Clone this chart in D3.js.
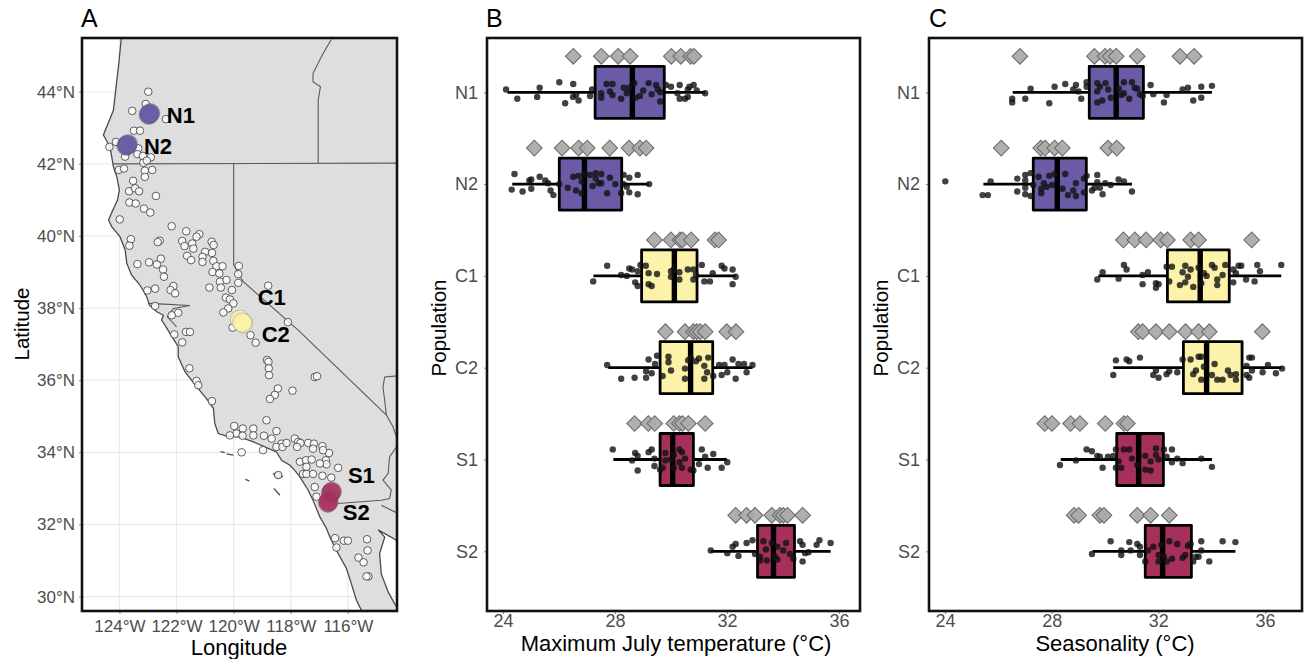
<!DOCTYPE html>
<html>
<head>
<meta charset="utf-8">
<script src="https://cdn.jsdelivr.net/npm/d3@7"></script>
<style>
  body { margin: 0; background: #fff; }
  text { font-family: "Liberation Sans", Arial, sans-serif; }
</style>
</head>
<body>
<svg width="1308" height="659"></svg>
<script>
var populations = ["N1", "N2", "C1", "C2", "S1", "S2"];
var popFill = ["#6b5ba6", "#6b5ba6", "#fdf2a9", "#fdf2a9", "#a6305c", "#a6305c"];

// map ticks
var lonTicks = [-124, -122, -120, -118, -116];
var latTicks = [30, 32, 34, 36, 38, 40, 42, 44];
var tempTicks = [24, 28, 32, 36];
var seasonTicks = [24, 28, 32, 36];

// land outline (lon, lat), runs off the panel on purpose
var land = [[-123.9,46],[-123.94,45.45],[-124.02,44.79],[-124.09,44.32],[-124.21,43.49],[-124.35,43.21],[-124.47,42.98],[-124.56,42.8],
  [-124.33,42.47],[-124.27,42.2],[-124.21,41.92],[-124.09,41.64],[-124,41.27],[-124.07,40.99],[-124.23,40.72],[-124.38,40.44],
  [-124.27,40.26],[-123.98,39.98],[-123.8,39.61],[-123.74,39.24],[-123.57,38.91],[-123.28,38.64],[-123.04,38.31],[-122.95,38.08],
  [-122.69,37.9],[-122.46,37.8],[-122.52,37.67],[-122.23,37.3],[-121.94,36.93],[-121.94,36.65],[-121.7,36.23],[-121.3,35.82],
  [-120.95,35.49],[-120.71,35.22],[-120.66,34.8],[-120.54,34.52],[-120.25,34.45],[-119.78,34.43],[-119.31,34.29],[-118.79,34.11],
  [-118.5,34.01],[-118.32,33.78],[-118.03,33.64],[-117.86,33.5],[-117.68,33.32],[-117.39,32.95],[-117.22,32.67],[-116.98,32.21],
  [-116.75,31.89],[-116.63,31.65],[-116.4,31.28],[-116.05,30.78],[-115.88,30.36],[-115.7,29.9],[-115.47,29.53],[-115,29.2],
  [-114.19,29.62],[-114.36,29.8],[-114.59,30.13],[-114.83,30.63],[-114.89,31.19],[-114.71,31.65],[-114.94,31.85],[-114.24,31.54],
  [-113,31.54],[-113,46]];
var borders = [
  [[-124.21,42],[-114,42.02]],
  [[-120,42],[-120,39.19],[-119.66,38.73],[-117.74,37.39],[-114.65,35.03],[-114.42,34.71],[-114.28,34.38],[-114.28,34.17],[-114.54,33.87],
   [-114.59,33.41],[-114.77,33.23],[-114.48,32.95],[-114.54,32.72],[-114.83,32.67],[-116.34,32.58]],
  [[-114.28,36.12],[-114.71,36.09],[-114.77,35.82],[-114.65,35.03]],
  [[-114.83,32.53],[-114.28,32.32]],
  [[-116.58,45.45],[-116.87,45.06],[-117.22,44.51],[-117.22,44.28],[-116.96,44.14],[-117.04,43.77],[-117.04,42.01]],
  [[-122.99,38.13],[-122.46,38.11],[-121.53,38.07],[-122.11,37.99],[-122.32,37.76],[-122,37.48]]
];
var islands = [
  [[-120.46,34.02],[-120.31,33.99]],
  [[-120.25,33.96],[-120.01,33.92]],
  [[-119.59,33.25],[-119.45,33.21]],
  [[-118.59,33],[-118.38,32.81]],
  [[-118.6,33.4],[-118.45,33.45],[-118.3,33.33],[-118.45,33.28]]
];

// sampling sites
var sites = [[-122.99,44],[-123.08,43.66],[-123.55,43.47],[-122.37,43.24],[-123.49,42.92],[-123.28,42.92],[-124.12,42.61],[-124.35,42.47],
  [-123.8,42.2],[-123.34,42.43],[-123.37,42.27],[-123.18,42.22],[-122.9,42.18],[-123.16,42.03],[-123.04,42.09],[-124.02,41.83],[-123.84,41.87],
  [-123.11,41.81],[-122.85,41.83],[-123.11,41.64],[-123.52,41.53],[-123.66,41.24],[-123.45,41.32],[-123.31,41.24],[-122.72,41.11],[-123.65,40.93],
  [-123.43,40.9],[-123.14,40.76],[-122.92,40.65],[-123.99,40.46],[-122.17,40.27],[-121.66,40.13],[-121.2,40.05],[-121.3,39.98],[-122.59,39.87],
  [-122.66,39.83],[-123.6,39.91],[-123.65,39.73],[-121.8,39.86],[-121.72,39.72],[-121.45,39.79],[-121.41,39.65],[-120.77,39.84],[-120.7,39.75],
  [-120.76,39.53],[-121,39.56],[-121.09,39.42],[-121.63,39.45],[-121.49,39.33],[-121.09,39.28],[-122.55,39.37],[-122.96,39.27],[-122.69,39.21],
  [-123.37,39.22],[-122.47,39.07],[-122.44,38.87],[-120.71,39.31],[-120.6,39.16],[-120.39,39.16],[-120.74,39],[-120.5,38.96],[-120.48,38.73],
  [-120.25,38.78],[-120.85,38.57],[-120.45,38.57],[-119.82,39.17],[-119.84,38.94],[-119.84,38.7],[-120.06,38.5],[-118.79,38.62],[-122.75,38.54],
  [-123.02,38.49],[-122.11,38.61],[-122.21,38.5],[-122.05,38.41],[-120.27,38.29],[-120.13,38.24],[-120.01,38.13],[-120.19,37.99],[-120.36,37.88],
  [-118.1,37.61],[-122.75,38.06],[-121.94,37.87],[-122.17,37.8],[-122.08,37.27],[-121.67,37.34],[-121.53,37.34],[-121.8,37.05],[-120.04,37.46],
  [-119.41,37.25],[-119.23,37.04],[-118.83,36.56],[-118.78,36.51],[-118.77,36.33],[-118.76,36.14],[-121.55,36.33],[-121.3,35.98],[-121.24,35.86],
  [-117.16,36.09],[-117.08,36.11],[-118.45,35.77],[-118.56,35.59],[-118.73,35.48],[-117.94,35.71],[-120.76,35.42],[-118.85,34.89],[-119.98,34.73],
  [-119.68,34.66],[-119.31,34.66],[-118.5,34.59],[-119.9,34.52],[-120.13,34.47],[-119.69,34.46],[-119.31,34.47],[-118.94,34.46],[-118.67,34.38],
  [-118.32,34.24],[-118.97,34.06],[-118.5,34.15],[-118.29,34.15],[-118.15,34.26],[-117.86,34.38],[-117.74,34.29],[-117.66,34.26],[-117.39,34.26],
  [-117.19,34.24],[-116.89,34.17],[-116.66,33.98],[-116.87,34.06],[-117.78,34.15],[-117.22,34.1],[-119.72,34],[-118.44,33.37],[-116.34,33.57],
  [-116.77,33.78],[-116.75,33.67],[-117.68,33.74],[-117.47,33.78],[-117.27,33.8],[-116.98,33.69],[-117.45,33.6],[-117.57,33.4],[-117.45,33.4],
  [-117.22,33.4],[-116.89,33.35],[-116.58,33.3],[-117.16,33.04],[-117.1,32.77],[-116.45,31.62],[-116.14,31.55],[-116,31.55],[-116.4,31.36],
  [-115.33,31.59],[-115.31,31.28],[-115.63,31.08],[-115.45,30.95],[-115.28,30.56],[-115.35,30.56]];

// focal populations: lon, lat, colour index
var focalSites = [[-122.95,43.38,0],[-122.98,43.36,0],[-122.92,43.41,0],[-123.73,42.52,1],[-123.76,42.5,1],[-123.7,42.55,1],
  [-119.78,37.68,2],[-119.66,37.57,3],[-119.7,37.6,3],[-116.56,32.91,4],[-116.6,32.87,4],[-116.7,32.6,5],[-116.67,32.64,5]];
var focalLabels = [["N1",-122.34,43.13],["N2",-123.14,42.27],["C1",-119.16,38.08],["C2",-119.02,37.06],["S1",-116,33.15],["S2",-116.18,32.12]];

// panel B: maximum July temperature, [value, vertical jitter]
var tempN1 = [[24.11,-.03],[24.51,.07],[25.22,.05],[25.31,-.05],[26.01,-.11],[26.51,-.09],[26.22,.12],[26.5,.05],[26.61,.03],[26.7,.09],[27.11,.04],[27.18,-.03],[27.51,.01],[27.51,.06],[27.7,-.09],[27.91,-.09],[27.82,-.01],[27.91,.03],[28.22,.07],[28.31,-.05],[28.42,.01],[28.5,-.05],[28.69,-.1],[28.73,.06],[28.89,.04],[29.01,-.02],[29.2,-.1],[29.31,.02],[29.47,-.08],[29.53,-.03],[29.62,0],[29.62,.1],[29.82,-.08],[30,-.06],[30.31,-.08],[30.23,.01],[30.31,.07],[30.5,.07],[30.6,.05],[30.6,-.03],[30.66,-.06],[30.81,-.08],[30.92,-.02],[31.22,.01]];
var tempN2 = [[24.31,.06],[24.41,-.11],[24.7,.08],[24.94,-.04],[25.01,-.05],[25.01,.05],[25.31,-.08],[25.51,-.04],[25.61,-.01],[25.7,.07],[25.8,.12],[26.01,0],[26.31,.04],[26.51,-.08],[26.61,.07],[26.7,-.09],[26.81,-.03],[26.81,.1],[26.91,-.11],[27.11,-.1],[27.2,.02],[27.31,-.12],[27.31,-.06],[27.41,-.01],[27.51,-.11],[27.51,-.01],[27.72,.1],[27.82,-.07],[28.01,0],[28.22,.1],[28.31,-.1],[28.31,0],[28.42,.03],[28.51,-.07],[28.51,.09],[28.81,-.1],[28.81,.11],[29.22,0]];
var tempC1 = [[27.22,.06],[27.72,-.11],[28.22,-.01],[28.42,0],[28.51,-.08],[28.61,-.07],[28.72,.07],[28.81,-.05],[28.81,.11],[28.91,-.12],[29.1,-.11],[29.2,-.03],[29.2,.09],[29.31,.11],[29.5,-.02],[30,-.05],[30,.01],[30.1,-.07],[30.3,-.04],[30.3,.04],[30.6,-.07],[30.8,-.07],[30.8,.04],[30.89,-.01],[31.1,-.12],[31.19,.06],[31.39,.06],[31.49,-.03],[31.81,-.11],[31.91,-.08],[32.2,-.07],[32.2,.09],[32.31,.01]];
var tempC2 = [[27.72,-.03],[28.22,.12],[28.7,.11],[29.11,.04],[29.11,.11],[29.2,-.09],[29.31,.06],[29.43,-.04],[29.5,-.13],[29.7,.09],[29.91,-.12],[29.91,-.06],[30,.03],[30.5,.01],[30.5,.12],[30.61,-.08],[30.7,-.11],[30.89,-.07],[31,-.1],[31.19,-.02],[31.19,.12],[31.29,.05],[31.33,-.11],[31.51,.09],[31.72,-.03],[31.81,.08],[31.91,-.03],[32.01,.05],[32.2,-.09],[32.31,.12],[32.41,-.04],[32.61,-.04],[32.7,.05],[32.91,-.03]];
var tempS1 = [[27.92,-.11],[28.61,.01],[28.72,-.07],[28.81,-.04],[28.81,.12],[29.2,-.08],[29.31,-.11],[29.41,-.01],[29.41,.07],[29.61,.11],[29.7,.09],[29.8,-.07],[29.8,.01],[30,0],[30.1,-.05],[30.1,.09],[30.3,-.11],[30.3,.03],[30.39,-.08],[30.39,.09],[30.5,-.01],[30.7,.11],[30.8,.12],[31,.05],[31.1,-.11],[31.22,-.03],[31.31,.09],[31.51,-.06],[31.81,.09],[32.01,.03]];
var tempS2 = [[31.42,-.01],[32.01,.02],[32.2,-.05],[32.31,-.08],[32.41,.05],[32.7,-.09],[32.91,-.12],[33,.03],[33.18,.06],[33.18,.1],[33.3,-.11],[33.39,-.02],[33.42,.1],[33.6,-.09],[33.72,.06],[33.8,.09],[33.8,-.05],[34.01,-.01],[34.11,-.09],[34.25,.03],[34.37,.08],[34.61,-.11],[34.7,-.07],[34.7,.11],[34.79,.02],[34.91,.01],[35.2,-.07],[35.3,-.12],[35.7,-.09]];
var tempDots = [tempN1, tempN2, tempC1, tempC2, tempS1, tempS2];
var tempQ1 = [27.29, 26.01, 28.95, 29.61, 29.61, 33.09];
var tempMedian = [28.62, 26.91, 30.12, 30.7, 30.06, 33.66];
var tempQ3 = [29.76, 28.24, 30.93, 31.49, 30.8, 34.41];
var tempLow = [24.16, 24.33, 27.23, 27.76, 27.94, 31.42];
var tempHigh = [31.22, 29.22, 32.31, 32.91, 31.99, 35.7];
var tempFocal = [
  [26.51, 27.51, 28.11, 28.54, 30.01, 30.35, 30.7, 30.82],
  [25.12, 26.11, 26.7, 27.01, 27.81, 28.5, 28.89, 29.11],
  [29.41, 30, 30.32, 30.41, 30.72, 31.57, 31.7],
  [29.8, 30.5, 30.8, 30.92, 31.04, 31.22, 31.99, 32.32],
  [28.7, 29.19, 29.42, 30.1, 30.3, 30.41, 30.62, 31.22],
  [32.31, 32.7, 33, 33.6, 33.89, 34.01, 34.16, 34.7]
];

// panel C: seasonality, [value, vertical jitter]
var seasonN1 = [[26.52,.07],[26.52,.11],[27.01,.07],[27.21,-.04],[27.91,.12],[28.11,-.06],[28.51,-.09],[28.81,-.03],[28.91,-.08],[29.01,-.01],[29.11,.07],[29.31,-.11],[29.31,-.06],[29.71,-.1],[29.71,-.01],[29.71,.11],[29.81,-.06],[29.9,.09],[30.02,-.1],[30.12,-.03],[30.22,.06],[30.52,-.04],[30.61,.03],[30.71,-.11],[30.71,.01],[30.91,.07],[31.01,-.11],[31.11,-.05],[31.21,-.04],[31.31,.02],[31.41,.04],[31.71,-.08],[31.81,.02],[32.21,.11],[32.31,.03],[32.91,-.03],[33.11,-.05],[33.31,.09],[33.61,-.06],[33.61,.06],[34.01,-.07]];
var seasonN2 = [[24.01,-.03],[25.41,.12],[25.61,.12],[25.71,-.03],[26.71,-.06],[26.71,.08],[27.01,-.1],[27.01,-.04],[27.01,.04],[27.01,.11],[27.21,-.12],[27.21,.13],[27.31,.01],[27.51,-.08],[27.61,.05],[27.61,.1],[27.71,-.01],[27.81,.03],[27.91,-.09],[28.01,.01],[28.11,-.11],[28.41,.05],[28.51,-.11],[28.61,.12],[28.81,.07],[28.91,.13],[28.91,-.01],[29.21,.09],[29.21,-.06],[29.31,-.09],[29.51,.07],[29.61,.04],[29.71,-.1],[29.71,-.02],[29.81,.04],[29.91,.11],[30.01,-.01],[30.21,.01],[30.51,-.05],[30.71,-.03],[31.01,.08]];
var seasonC1 = [[29.71,.04],[29.91,-.04],[30.51,.03],[30.71,-.12],[30.81,-.07],[31.41,.09],[31.41,-.01],[31.61,-.04],[31.91,.08],[31.91,.13],[32.01,.09],[32.31,-.1],[32.41,.06],[32.51,-.1],[32.81,.1],[32.91,-.04],[33.01,.07],[33.01,-.11],[33.11,.01],[33.21,-.07],[33.31,.12],[33.51,-.09],[33.61,.08],[33.71,-.03],[33.81,0],[34.01,-.12],[34.11,-.09],[34.21,.04],[34.21,.1],[34.41,-.01],[34.51,-.12],[34.81,.07],[34.81,-.07],[34.91,-.03],[35.01,-.11],[35.11,-.11],[35.29,.04],[35.61,.06],[35.71,-.12],[35.81,-.05],[36.61,-.12]];
var seasonC2 = [[30.31,.08],[30.41,-.08],[30.81,-.09],[30.91,-.07],[31.31,-.11],[31.81,.08],[31.91,.03],[32.01,.11],[32.31,.07],[32.41,.04],[32.71,.05],[32.91,-.09],[33.21,-.09],[33.31,.07],[33.41,.03],[33.51,-.12],[33.61,.13],[33.71,-.01],[33.61,-.12],[34.01,.08],[34.11,-.04],[34.21,.13],[34.41,.13],[34.61,.03],[34.71,.08],[34.91,.07],[34.91,.13],[35.31,-.02],[35.31,.08],[35.41,-.11],[35.51,-.11],[35.51,.03],[35.41,.11],[35.91,.05],[36.11,-.03],[36.41,.06],[36.64,.01]];
var seasonS1 = [[28.31,.06],[28.91,.01],[29.31,-.11],[29.51,-.09],[29.71,-.04],[29.91,.09],[29.81,-.03],[30.11,-.03],[30.31,-.04],[30.41,-.11],[30.41,.09],[30.51,.02],[30.61,.09],[30.71,-.11],[30.91,-.11],[31.01,-.01],[31.21,.06],[31.51,-.04],[31.51,.11],[31.71,.02],[31.71,.12],[31.91,-.12],[31.91,-.05],[32.01,0],[32.21,-.11],[32.31,-.03],[32.51,-.11],[32.51,.03],[32.71,-.01],[32.91,.04],[33.61,-.01],[34.01,.08]];
var seasonS2 = [[29.51,.03],[30.21,-.11],[30.61,-.01],[30.61,.04],[30.91,-.1],[30.96,-.01],[31.21,-.08],[31.31,-.05],[31.31,.04],[31.51,.11],[31.61,-.01],[31.81,-.05],[32.01,.04],[32.01,.11],[32.11,-.07],[32.21,.06],[32.31,.11],[32.41,-.11],[32.51,.08],[32.71,-.08],[32.91,.07],[33.01,.04],[33.11,-.06],[33.21,-.08],[33.31,.11],[33.41,.06],[33.51,.06],[33.61,-.11],[33.61,-.01],[33.91,.11],[34.41,-.11],[34.89,-.1]];
var seasonDots = [seasonN1, seasonN2, seasonC1, seasonC2, seasonS1, seasonS2];
var seasonQ1 = [29.41, 27.31, 32.34, 32.94, 30.44, 31.51];
var seasonMedian = [30.42, 28.21, 33.57, 33.81, 31.26, 32.16];
var seasonQ3 = [31.44, 29.3, 34.66, 35.14, 32.19, 33.24];
var seasonLow = [26.54, 25.44, 29.75, 30.31, 28.34, 29.54];
var seasonHigh = [34.01, 31.01, 36.61, 36.64, 34.01, 34.89];
var seasonFocal = [
  [26.81, 29.6, 30, 30.19, 30.42, 31.21, 32.81, 33.34],
  [26.11, 27.59, 27.75, 28.11, 28.4, 30.11, 30.44],
  [30.69, 31.12, 31.54, 32.09, 32.34, 33.21, 33.51, 35.5],
  [31.25, 31.41, 31.91, 32.41, 33.02, 33.51, 33.91, 35.9],
  [27.74, 28.01, 28.71, 29.06, 30.01, 30.71, 30.84],
  [28.84, 29.01, 29.81, 29.96, 31.21, 31.71, 32.41]
];

var svg = d3.select("svg");
var top_ = 38, bottom = 611;

function styleAxis(sel, fontSize) {
  sel.select(".domain").remove();
  sel.selectAll("line").attr("stroke", "#8a8a8a");
  sel.selectAll("text").attr("fill", "#4d4d4d").style("font-size", fontSize + "px");
}

function addTitle(text, x, y, rotate, size, anchor) {
  svg.append("text")
    .attr("transform", "translate(" + x + "," + y + ")" + (rotate ? "rotate(-90)" : ""))
    .attr("text-anchor", anchor || "middle")
    .style("font-size", size + "px")
    .text(text);
}

// ---- Map panel ----
var lonScale = d3.scaleLinear().domain([-125.31, -114.28]).range([82, 397]);
var latScale = d3.scaleLinear().domain([45.49, 29.6]).range([top_, bottom]);
var mapLine = d3.line().x(function (d) { return lonScale(d[0]); }).y(function (d) { return latScale(d[1]); });

svg.append("clipPath").attr("id", "mapClip").append("rect")
  .attr("x", 82).attr("y", top_).attr("width", 315).attr("height", bottom - top_);
var map = svg.append("g").attr("clip-path", "url(#mapClip)");

map.selectAll(".vgrid").data(lonTicks).enter().append("line")
  .attr("x1", lonScale).attr("x2", lonScale).attr("y1", top_).attr("y2", bottom)
  .attr("stroke", "#ebebeb").attr("stroke-width", 1.2);
map.selectAll(".hgrid").data(latTicks).enter().append("line")
  .attr("y1", latScale).attr("y2", latScale).attr("x1", 82).attr("x2", 397)
  .attr("stroke", "#ebebeb").attr("stroke-width", 1.2);

map.append("path").attr("d", mapLine(land) + "Z").attr("fill", "#dedede").attr("stroke", "#4a4a4a").attr("stroke-width", 1.3);
map.selectAll(".border").data(borders).enter().append("path")
  .attr("d", mapLine).attr("fill", "none").attr("stroke", "#5a5a5a").attr("stroke-width", 1.1);
map.selectAll(".island").data(islands).enter().append("path")
  .attr("d", function (d) { return mapLine(d) + "Z"; }).attr("fill", "#dedede").attr("stroke", "#4a4a4a").attr("stroke-width", 1.3);

map.selectAll(".site").data(sites).enter().append("circle")
  .attr("cx", function (d) { return lonScale(d[0]); })
  .attr("cy", function (d) { return latScale(d[1]); })
  .attr("r", 3.8)
  .attr("fill", "#fff").attr("fill-opacity", 0.8)
  .attr("stroke", "#444").attr("stroke-opacity", 0.85).attr("stroke-width", 1);
map.selectAll(".focal").data(focalSites).enter().append("circle")
  .attr("cx", function (d) { return lonScale(d[0]); })
  .attr("cy", function (d) { return latScale(d[1]); })
  .attr("r", 9.6)
  .attr("fill", function (d) { return popFill[d[2]]; })
  .attr("fill-opacity", 0.75)
  .attr("stroke", "#555").attr("stroke-opacity", 0.35).attr("stroke-width", 0.8);
map.selectAll(".focalLabel").data(focalLabels).enter().append("text")
  .attr("x", function (d) { return lonScale(d[1]); })
  .attr("y", function (d) { return latScale(d[2]); })
  .style("font-size", "22px").style("font-weight", "bold")
  .text(function (d) { return d[0]; });

svg.append("g").attr("transform", "translate(0," + bottom + ")")
  .call(d3.axisBottom(lonScale).tickValues(lonTicks).tickSize(3).tickPadding(6).tickFormat(function (d) { return -d + "°W"; }))
  .call(styleAxis, 17);
svg.append("g").attr("transform", "translate(82,0)")
  .call(d3.axisLeft(latScale).tickValues(latTicks).tickSize(3).tickPadding(4).tickFormat(function (d) { return d + "°N"; }))
  .call(styleAxis, 17);
svg.append("rect").attr("x", 82).attr("y", top_).attr("width", 315).attr("height", bottom - top_)
  .attr("fill", "none").attr("stroke", "#111").attr("stroke-width", 2.6);

// ---- Box plot panels ----
var yPop = d3.scalePoint().domain(populations).range([92.3, 551.3]);

function boxPanel(left, right, xScale, ticks, dots, q1, med, q3, low, high, focal) {
  var g = svg.append("g");
  var boxH = 52;

  populations.forEach(function (p, i) {
    var row = g.append("g");
    var cy = yPop(p);

    // focal site values, drawn as a row above each box
    row.selectAll(".diamond").data(focal[i]).enter().append("path")
      .attr("d", d3.symbol().type(d3.symbolSquare).size(122))
      .attr("transform", function (d) { return "translate(" + xScale(d) + "," + (cy - 36) + ")rotate(45)"; })
      .attr("fill", "#ababab").attr("fill-opacity", 0.95)
      .attr("stroke", "#6e6e6e").attr("stroke-width", 1.1);

    row.append("line")
      .attr("x1", xScale(low[i])).attr("x2", xScale(high[i])).attr("y1", cy).attr("y2", cy)
      .attr("stroke", "#000").attr("stroke-width", 2.8);
    row.append("rect")
      .attr("x", xScale(q1[i])).attr("width", xScale(q3[i]) - xScale(q1[i]))
      .attr("y", cy - boxH / 2).attr("height", boxH)
      .attr("fill", popFill[i]).attr("stroke", "#000").attr("stroke-width", 2.8)
      .attr("stroke-linejoin", "round");
    row.append("line")
      .attr("x1", xScale(med[i])).attr("x2", xScale(med[i])).attr("y1", cy - boxH / 2).attr("y2", cy + boxH / 2)
      .attr("stroke", "#000").attr("stroke-width", 5.4);

    row.selectAll(".dot").data(dots[i]).enter().append("circle")
      .attr("cx", function (d) { return xScale(d[0]); })
      .attr("cy", function (d) { return cy + d[1] * yPop.step(); })
      .attr("r", 3.2)
      .attr("fill", "#111").attr("fill-opacity", 0.8);
  });

  svg.append("g").attr("transform", "translate(0," + bottom + ")")
    .call(d3.axisBottom(xScale).tickValues(ticks).tickSize(3).tickPadding(0))
    .call(styleAxis, 18);
  svg.append("g").attr("transform", "translate(" + left + ",0)")
    .call(d3.axisLeft(yPop).tickSize(3).tickPadding(6))
    .call(styleAxis, 18);
  svg.append("rect").attr("x", left).attr("y", top_).attr("width", right - left).attr("height", bottom - top_)
    .attr("fill", "none").attr("stroke", "#111").attr("stroke-width", 2.6);
}

var tempScale = d3.scaleLinear().domain([24, 36]).range([503, 839]);
var seasonScale = d3.scaleLinear().domain([24, 36]).range([945, 1265]);
boxPanel(487, 860, tempScale, tempTicks, tempDots, tempQ1, tempMedian, tempQ3, tempLow, tempHigh, tempFocal);
boxPanel(929, 1302, seasonScale, seasonTicks, seasonDots, seasonQ1, seasonMedian, seasonQ3, seasonLow, seasonHigh, seasonFocal);

// ---- Titles ----
addTitle("A", 81, 27, false, 25, "start");
addTitle("B", 486, 27, false, 25, "start");
addTitle("C", 929, 27, false, 25, "start");
addTitle("Longitude", 239, 655, false, 22);
addTitle("Latitude", 29, 324, true, 20.5);
addTitle("Maximum July temperature (°C)", 676, 651, false, 22);
addTitle("Population", 446, 328, true, 20.5);
addTitle("Seasonality (°C)", 1115, 651, false, 22);
addTitle("Population", 888, 328, true, 20.5);
</script>
</body>
</html>
